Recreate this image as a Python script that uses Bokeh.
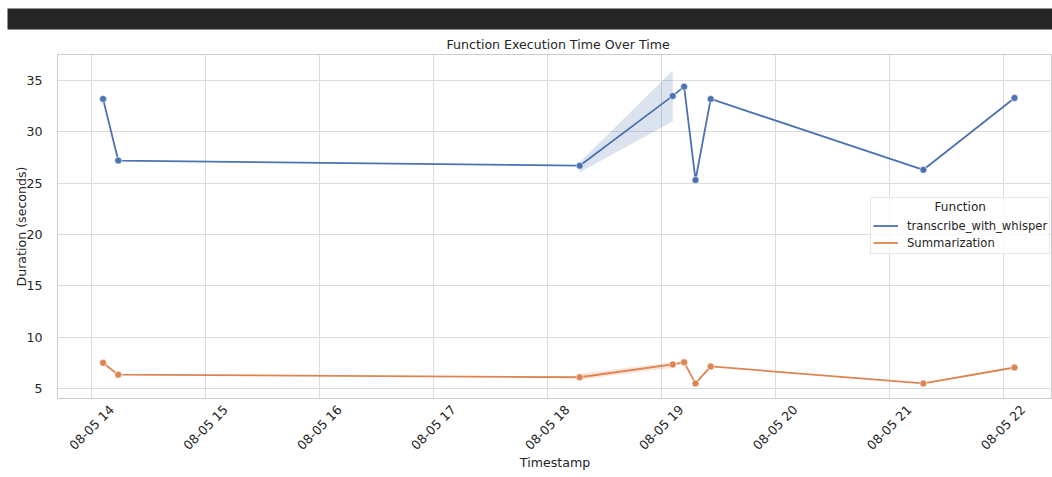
import math
import pandas as pd
from bokeh.plotting import figure
from bokeh.models import (Range1d, FixedTicker, DatetimeTickFormatter, Legend, LegendItem,
                          ColumnDataSource, Title)
from bokeh.embed import file_html
from bokeh.resources import INLINE

# ---- data ----
timestamps = ["2024-08-05 14:06", "2024-08-05 14:14", "2024-08-05 18:17", "2024-08-05 19:06",
              "2024-08-05 19:12", "2024-08-05 19:18", "2024-08-05 19:26", "2024-08-05 21:18",
              "2024-08-05 22:06"]
whisper = [33.2, 27.2, 26.7, 33.5, 34.4, 25.3, 33.2, 26.3, 33.3]
summarization = [7.5, 6.35, 6.1, 7.35, 7.55, 5.5, 7.15, 5.5, 7.05]

band_times = ["2024-08-05 18:17", "2024-08-05 19:06"]
whisper_lo = [26.07, 31.0]
whisper_hi = [27.04, 35.97]
summ_lo = [5.85, 7.02]
summ_hi = [6.43, 7.56]

tick_hours = ["2024-08-05 14:00", "2024-08-05 15:00", "2024-08-05 16:00", "2024-08-05 17:00",
              "2024-08-05 18:00", "2024-08-05 19:00", "2024-08-05 20:00", "2024-08-05 21:00",
              "2024-08-05 22:00"]
y_ticks = [5, 10, 15, 20, 25, 30, 35]

title_text = "Function Execution Time Over Time"
x_label = "Timestamp"
y_label = "Duration (seconds)"
series_names = ["transcribe_with_whisper", "Summarization"]
legend_title = "Function"
colors = ["#4c72b0", "#dd8452"]

x_start = "2024-08-05 13:42"
x_end = "2024-08-05 22:26"
y_start, y_end = 4.03, 37.53

# ---- build ----
ts = pd.to_datetime(timestamps)
bt = pd.to_datetime(band_times)

def ms(t):
    return pd.Timestamp(t).value / 1e6

TXT = "#262626"
FONT = "DejaVu Sans"
FS = "12.6px"

W, H = 1052, 477
ML, MR, MT, MB = 57, 0, 54, 79

p = figure(width=W, height=H, x_axis_type="datetime", output_backend="svg",
           toolbar_location=None,
           x_range=Range1d(ms(x_start), ms(x_end)), y_range=Range1d(y_start, y_end),
           min_border_left=ML, min_border_right=MR, min_border_top=MT, min_border_bottom=MB)
p.title = None

# "above" panels stack outward from the frame: title, gap, dark header bar
p.add_layout(Title(text=title_text, align="left", offset=389, standoff=5,
                   text_font=FONT, text_font_size=FS, text_font_style="normal",
                   text_color=TXT), "above")
p.add_layout(Title(text="\u00a0", text_font_size="1px", standoff=0), "above")
p.add_layout(Title(text="\u00a0" * 400, text_font_size="19px", standoff=0, align="left",
                   offset=-(ML - 7), background_fill_color="#262626"), "above")

p.outline_line_color = "#cccccc"
p.outline_line_width = 1

for ax in (p.xaxis[0], p.yaxis[0]):
    ax.axis_line_color = None
    ax.major_tick_line_color = None
    ax.minor_tick_line_color = None
    ax.major_label_text_font = FONT
    ax.major_label_text_font_size = FS
    ax.major_label_text_color = TXT
    ax.axis_label_text_font = FONT
    ax.axis_label_text_font_size = FS
    ax.axis_label_text_font_style = "normal"
    ax.axis_label_text_color = TXT

# rotated labels are centred on the hour lines (label anchor shifted ~20px right)
label_shift_ms = 10.5 * 60 * 1000
hour_ms = [ms(t) for t in tick_hours]
p.xaxis.ticker = FixedTicker(ticks=[h + label_shift_ms for h in hour_ms])
p.xgrid.ticker = FixedTicker(ticks=hour_ms)
fmt = "%m-%d %H"
p.xaxis.formatter = DatetimeTickFormatter(microseconds=fmt, milliseconds=fmt, seconds=fmt,
                                          minsec=fmt, minutes=fmt, hourmin=fmt, hours=fmt,
                                          days=fmt, months=fmt, years=fmt)
p.xaxis.major_label_orientation = math.pi / 4
p.xaxis.major_label_standoff = 3
p.xaxis.axis_label = x_label
p.xaxis.axis_label_standoff = -6

p.yaxis.ticker = FixedTicker(ticks=y_ticks)
p.yaxis.major_label_standoff = 9
p.yaxis.axis_label = y_label
p.yaxis.axis_label_standoff = -6

p.xgrid.grid_line_color = "#dcdcdc"
p.ygrid.grid_line_color = "#dcdcdc"

# confidence bands
p.varea(x=bt, y1=whisper_lo, y2=whisper_hi, fill_color=colors[0], fill_alpha=0.2)
p.varea(x=bt, y1=summ_lo, y2=summ_hi, fill_color=colors[1], fill_alpha=0.22)

src = ColumnDataSource(dict(t=ts, w=whisper, s=summarization))
l1 = p.line("t", "w", source=src, line_color=colors[0], line_width=1.8)
l2 = p.line("t", "s", source=src, line_color=colors[1], line_width=1.8)
p.scatter("t", "w", source=src, size=7, fill_color=colors[0], line_color="white", line_width=0.6)
p.scatter("t", "s", source=src, size=7, fill_color=colors[1], line_color="white", line_width=0.6)

legend = Legend(items=[LegendItem(label=series_names[0], renderers=[l1]),
                       LegendItem(label=series_names[1], renderers=[l2])],
                location=(813, 144), title="\u00a0" * 16 + legend_title,
                title_text_font=FONT, title_text_font_size="12.1px", title_text_color=TXT,
                title_text_font_style="normal", title_standoff=3,
                label_text_font=FONT, label_text_font_size="11.6px", label_text_color=TXT,
                glyph_width=25, glyph_height=17, label_height=17, label_standoff=9,
                spacing=0, padding=2, margin=0,
                border_line_color="#d0d0d0", border_line_width=1,
                background_fill_color="white", background_fill_alpha=0.8)
p.add_layout(legend, "center")

open("out.html", "w").write(file_html(p, INLINE))
